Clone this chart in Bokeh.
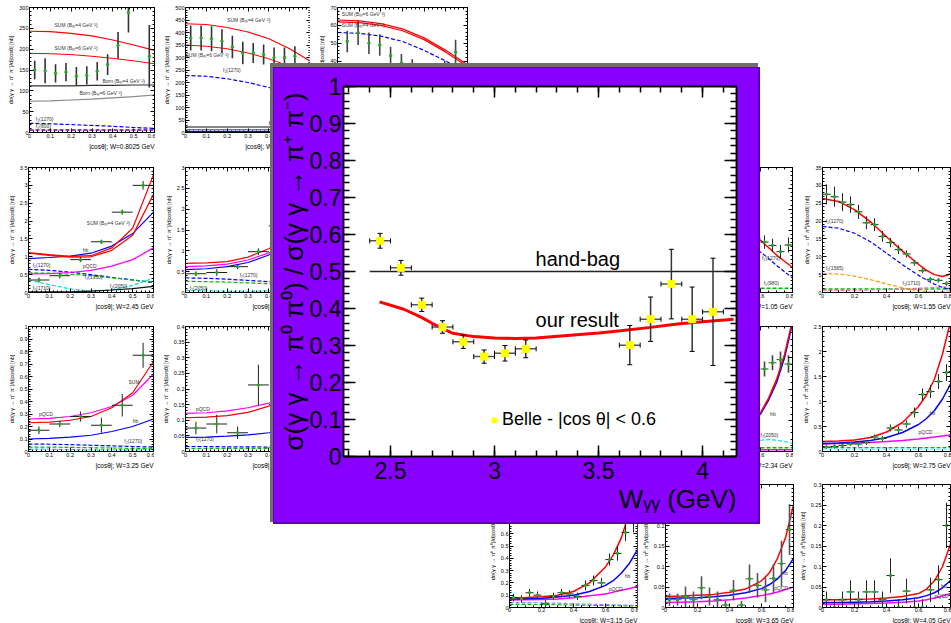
from bokeh.plotting import figure
from bokeh.models import (ColumnDataSource, FixedTicker, LinearAxis, Range1d, Legend,
                          LegendItem, Whisker, TeeHead, Div, Column, CustomJSTickFormatter, Title)
from bokeh.core.properties import value
from bokeh.embed import file_html
from bokeh.resources import INLINE

# ================= main chart data =================
belle_w = [2.45, 2.55, 2.65, 2.75, 2.85, 2.95, 3.05, 3.15, 3.65, 3.75, 3.85, 3.95, 4.05]
belle_ratio = [0.583, 0.510, 0.410, 0.350, 0.310, 0.270, 0.279, 0.291, 0.301, 0.371, 0.466, 0.371, 0.391]
belle_ratio_err = [0.020, 0.020, 0.018, 0.017, 0.018, 0.018, 0.021, 0.024, 0.053, 0.060, 0.094, 0.087, 0.145]
belle_w_err = [0.05, 0.05, 0.05, 0.05, 0.05, 0.05, 0.05, 0.05, 0.05, 0.05, 0.05, 0.05, 0.05]

result_w = [2.447, 2.564, 2.649, 2.70, 2.756, 2.80, 2.90, 3.0, 3.1, 3.2, 3.35, 3.5, 3.606, 3.75, 3.878, 4.0, 4.149]
result_ratio = [0.418, 0.398, 0.376, 0.360, 0.344, 0.333, 0.324, 0.320, 0.319, 0.320, 0.327, 0.334, 0.340, 0.349, 0.358, 0.364, 0.371]

handbag_w = [2.40, 4.16]
handbag_ratio = [0.50, 0.50]

main_y_ticks = [0, 0.1, 0.2, 0.3, 0.4, 0.5, 0.6, 0.7, 0.8, 0.9, 1]
main_x_ticks = [2.5, 3, 3.5, 4]

# ================= background panels data =================
cos_grid6 = [0.0, 0.1, 0.2, 0.3, 0.4, 0.5, 0.6]
cos_grid8 = [0.0, 0.1, 0.2, 0.3, 0.4, 0.5, 0.6, 0.65, 0.7, 0.75, 0.8]
cos_bins10 = [0.05, 0.15, 0.25, 0.35, 0.45, 0.55]
cos_bins05 = [0.025, 0.075, 0.125, 0.175, 0.225, 0.275, 0.325, 0.375, 0.425, 0.475,
              0.525, 0.575, 0.625, 0.675, 0.725, 0.775]
ticks_cos6 = [0, 0.1, 0.2, 0.3, 0.4, 0.5, 0.6]
ticks_cos8 = [0, 0.2, 0.4, 0.6, 0.8]

# A: W = 0.8025 GeV
a_cos = [0.025, 0.075, 0.125, 0.175, 0.225, 0.275, 0.325, 0.375, 0.425, 0.475, 0.575]
a_val = [150, 148, 142, 145, 135, 137, 147, 163, 209, 288, 183]
a_err = [22, 30, 22, 22, 22, 22, 22, 25, 32, 48, 75]
a_sum4 = [243, 242, 238, 232, 222, 210, 197]
a_sum6 = [190, 189, 187, 183, 178, 172, 165]
a_born4 = [112, 112, 112, 113, 113, 114, 114]
a_born6 = [75, 76, 78, 80, 83, 86, 90]
a_f2 = [22, 21, 19, 17, 15, 12, 10]
a_f0 = [6, 6, 6, 6, 6, 6, 6]
a_yticks = [0, 50, 100, 150, 200, 250, 300]

# B
b_cos = [0.025, 0.075, 0.125, 0.175, 0.225, 0.275, 0.325, 0.375, 0.425, 0.475, 0.525]
b_val = [378, 378, 375, 365, 342, 318, 318, 312, 300, 300, 305]
b_err = [50, 50, 50, 48, 45, 45, 40, 40, 40, 40, 40]
b_sum4 = [435, 432, 420, 402, 375, 335, 285]
b_sum6 = [350, 345, 335, 318, 295, 265, 230]
b_f2 = [228, 225, 215, 200, 180, 158, 135]
b_born4 = [22, 22, 22, 22, 22, 22, 22]
b_born6 = [12, 12, 12, 12, 12, 12, 12]
b_f0 = [3, 3, 3, 3, 3, 3, 3]
b_yticks = [0, 50, 100, 150, 200, 250, 300, 350, 400, 450, 500]

# C
c_cos = [0.045, 0.095, 0.145, 0.195, 0.245, 0.295, 0.345, 0.395, 0.445, 0.495, 0.545]
c_val = [51, 56, 50, 49, 43, 39, 36, 33, 31, 35, 45]
c_err = [6, 7, 6, 6, 5, 5, 5, 5, 5, 5, 7]
c_sum6 = [63, 62.5, 61, 58, 53, 46, 38]
c_sum4 = [62, 61.5, 60, 57, 52, 45, 37]
c_f2 = [56, 55.5, 54, 51, 46, 40, 33]
c_yticks = [0, 10, 20, 30, 40, 50, 60, 70]

# D: W = 2.45 GeV
d_val = [0.35, 0.47, 0.92, 1.42, 2.25, 3.0]
d_err = [0.07, 0.08, 0.07, 0.06, 0.07, 0.12]
d_sum4 = [1.12, 1.06, 1.01, 1.03, 1.25, 1.8, 3.3]
d_sum6 = [1.10, 1.04, 0.99, 1.0, 1.18, 1.6, 2.75]
d_hb = [0.95, 0.98, 1.02, 1.1, 1.3, 1.65, 2.25]
d_pqcd = [0.52, 0.53, 0.56, 0.62, 0.74, 0.92, 1.25]
d_f2_1270 = [0.65, 0.62, 0.57, 0.5, 0.42, 0.35, 0.28]
d_f2_1950 = [0.55, 0.54, 0.51, 0.47, 0.41, 0.35, 0.29]
d_f2_2050 = [0.35, 0.22, 0.1, 0.04, 0.07, 0.2, 0.4]
d_f2_1710 = [0.02, 0.02, 0.02, 0.04, 0.07, 0.11, 0.17]
d_yticks = [0, 0.5, 1, 1.5, 2, 2.5, 3, 3.5]

# E
e_val = [0.45, 0.48, 0.62, 0.98, 1.6, 2.5]
e_err = [0.06, 0.08, 0.06, 0.08, 0.1, 0.15]
e_sum = [0.70, 0.71, 0.74, 0.85, 1.05, 1.4, 2.0]
e_pqcd = [0.62, 0.64, 0.68, 0.78, 0.95, 1.25, 1.7]
e_hb = [0.55, 0.57, 0.62, 0.72, 0.9, 1.2, 1.65]
e_f2_1270 = [0.35, 0.34, 0.32, 0.29, 0.26, 0.23, 0.2]
e_f2_1950 = [0.27, 0.26, 0.25, 0.23, 0.21, 0.19, 0.17]
e_f2_2050 = [0.05, 0.04, 0.03, 0.03, 0.04, 0.06, 0.1]
e_yticks = [0, 0.5, 1, 1.5, 2, 2.5, 3]

# F: W = 3.25 GeV
f_val = [0.17, 0.22, 0.28, 0.21, 0.37, 0.77]
f_err = [0.03, 0.025, 0.04, 0.06, 0.09, 0.1]
f_sum = [0.23, 0.235, 0.25, 0.28, 0.35, 0.47, 0.72]
f_pqcd = [0.26, 0.265, 0.28, 0.31, 0.36, 0.45, 0.62]
f_hb = [0.1, 0.105, 0.115, 0.13, 0.16, 0.2, 0.26]
f_f2_1270 = [0.06, 0.058, 0.055, 0.05, 0.045, 0.04, 0.035]
f_f2_1950 = [0.035, 0.035, 0.033, 0.03, 0.028, 0.025, 0.022]
f_f2_2050 = [0.02, 0.018, 0.015, 0.013, 0.012, 0.013, 0.015]
f_yticks = [0, 0.1, 0.2, 0.3, 0.4, 0.5, 0.6, 0.7, 0.8, 0.9, 1]

# G
g_val = [0.075, 0.088, 0.06, 0.213, 0.15, 0.3]
g_err = [0.02, 0.03, 0.02, 0.065, 0.05, 0.07]
g_sum = [0.108, 0.11, 0.115, 0.125, 0.145, 0.175, 0.22]
g_pqcd = [0.122, 0.124, 0.13, 0.14, 0.155, 0.18, 0.22]
g_hb = [0.045, 0.046, 0.049, 0.053, 0.06, 0.07, 0.085]
g_f2_1270 = [0.016, 0.016, 0.015, 0.015, 0.014, 0.013, 0.012]
g_f2_1950 = [0.01, 0.01, 0.01, 0.01, 0.01, 0.01, 0.01]
g_yticks = [0, 0.05, 0.1, 0.15, 0.2, 0.25, 0.3, 0.35, 0.4]

# H: W = 1.05 GeV (pi0 pi0)
h_val = [22, 22, 21, 20.5, 19.5, 18.5, 17.5, 16.5, 15.5, 14.5, 13.5, 13, 12.1, 11.3, 9.8, 11.4]
h_err = [1.5, 1.5, 1.5, 1.5, 1.5, 1.5, 1.5, 1.5, 1.5, 1.5, 1.5, 1.5, 1.6, 1.6, 1.6, 1.8]
h_sum = [26, 25.5, 24, 22, 19.5, 16.5, 12.5, 10.8, 9.0, 7.5, 6.0]
h_f2_1270 = [19, 18.7, 17.8, 16.3, 14.3, 12, 9.7, 8.2, 6.5, 5.0, 3.5]
h_f0_980 = [1.0, 1.0, 1.0, 1.0, 1.0, 1.0, 1.0, 1.0, 1.0, 1.0, 1.0]
h_yticks = [0, 5, 10, 15, 20, 25, 30]

# I: W = 1.55 GeV (pi0 pi0)
i_val = [27.5, 26.8, 25.3, 24.6, 22.6, 19.5, 19.0, 15.7, 14.0, 12.0, 10.8, 8.3, 6.1, 3.7, 3.4, 2.5]
i_err = [2.8, 2.8, 2.5, 2.3, 2.0, 1.8, 1.8, 1.5, 1.3, 1.2, 1.0, 0.8, 0.7, 0.6, 0.6, 0.6]
i_sum = [26.3, 25.5, 23.2, 19.8, 15.6, 11.6, 7.9, 6.2, 5.0, 4.5, 5.2]
i_f2_1270 = [18.5, 18.0, 16.6, 14.2, 11.0, 7.8, 4.8, 3.5, 2.3, 1.4, 0.8]
i_f2_1565 = [5.3, 5.2, 4.6, 3.6, 2.4, 1.3, 0.5, 0.25, 0.1, 0.2, 0.5]
i_f2_1710 = [0.6, 0.6, 0.6, 0.7, 0.8, 1.0, 1.2, 1.3, 1.4, 1.5, 1.6]
i_bkg = [1.0, 1.0, 1.0, 1.0, 1.0, 1.0, 1.0, 1.0, 1.0, 1.0, 1.0]
i_yticks = [0, 5, 10, 15, 20, 25, 30, 35]

# J: W = 2.34 GeV (pi0 pi0)
j_val = [0.1, 0.12, 0.12, 0.14, 0.18, 0.2, 0.25, 0.3, 0.38, 0.45, 0.55, 0.75, 1.32, 1.42, 1.47, 1.40]
j_err = [0.03, 0.03, 0.03, 0.03, 0.04, 0.04, 0.04, 0.05, 0.05, 0.06, 0.07, 0.08, 0.12, 0.12, 0.13, 0.14]
j_sum = [0.12, 0.13, 0.15, 0.18, 0.24, 0.36, 0.62, 0.85, 1.15, 1.55, 2.1]
j_hb = [0.1, 0.11, 0.13, 0.16, 0.22, 0.34, 0.6, 0.82, 1.1, 1.5, 2.05]
j_f2_2050 = [0.05, 0.06, 0.08, 0.1, 0.13, 0.16, 0.18, 0.19, 0.18, 0.16, 0.13]
j_f2_1950 = [0.06, 0.06, 0.06, 0.06, 0.06, 0.06, 0.06, 0.06, 0.06, 0.06, 0.06]
j_pqcd = [0.03, 0.03, 0.03, 0.03, 0.03, 0.03, 0.03, 0.03, 0.03, 0.03, 0.03]
j_yticks = [0, 0.5, 1, 1.5, 2]

# K: W = 2.75 GeV (pi0 pi0)
k_val = [0.09, 0.1, 0.12, 0.15, 0.15, 0.18, 0.29, 0.26, 0.47, 0.43, 0.55, 0.78, 1.14, 1.2, 1.4, 1.58]
k_err = [0.04, 0.04, 0.04, 0.04, 0.05, 0.05, 0.05, 0.05, 0.07, 0.07, 0.07, 0.1, 0.12, 0.13, 0.15, 0.17]
k_sum = [0.2, 0.21, 0.23, 0.28, 0.39, 0.58, 0.9, 1.13, 1.45, 1.95, 2.6]
k_hb = [0.16, 0.17, 0.19, 0.22, 0.28, 0.38, 0.54, 0.66, 0.82, 1.05, 1.35]
k_pqcd = [0.15, 0.16, 0.17, 0.18, 0.2, 0.22, 0.25, 0.27, 0.29, 0.31, 0.33]
k_f2_1950 = [0.08, 0.08, 0.08, 0.08, 0.08, 0.08, 0.08, 0.08, 0.08, 0.08, 0.08]
k_f2_2050 = [0.05, 0.05, 0.05, 0.05, 0.05, 0.05, 0.05, 0.05, 0.05, 0.05, 0.05]
k_yticks = [0, 0.5, 1, 1.5, 2, 2.5]

# L: W = 3.15 GeV (pi0 pi0)
l_val = [0.08, 0.07, 0.12, 0.1, 0.03, 0.09, 0.12, 0.11, 0.09, 0.18, 0.22, 0.2, 0.39, 0.44, 0.61, 0.7]
l_err = [0.03, 0.03, 0.03, 0.03, 0.03, 0.03, 0.03, 0.03, 0.03, 0.04, 0.04, 0.04, 0.05, 0.06, 0.07, 0.09]
l_sum = [0.08, 0.082, 0.088, 0.1, 0.13, 0.2, 0.33, 0.43, 0.57, 0.78, 1.05]
l_hb = [0.07, 0.072, 0.076, 0.085, 0.1, 0.13, 0.18, 0.22, 0.28, 0.36, 0.47]
l_pqcd = [0.06, 0.062, 0.065, 0.07, 0.08, 0.095, 0.11, 0.125, 0.14, 0.155, 0.17]
l_f2_1270 = [0.04, 0.04, 0.038, 0.035, 0.03, 0.027, 0.024, 0.022, 0.02, 0.018, 0.016]
l_f2_1950 = [0.025, 0.025, 0.024, 0.022, 0.02, 0.018, 0.016, 0.015, 0.014, 0.013, 0.012]
l_yticks = [0, 0.1, 0.2, 0.3, 0.4, 0.5, 0.6, 0.7, 0.8, 0.9, 1]

# M: W = 3.65 GeV (pi0 pi0)
m_val = [0.019, 0.019, 0.026, 0.019, 0.048, 0.027, 0.019, 0.006, 0.042, 0.006, 0.07, 0.054, 0.043, 0.071, 0.107, 0.19]
m_err = [0.015, 0.015, 0.025, 0.02, 0.028, 0.022, 0.02, 0.01, 0.025, 0.01, 0.035, 0.03, 0.03, 0.035, 0.056, 0.062]
m_sum = [0.027, 0.028, 0.03, 0.032, 0.037, 0.045, 0.065, 0.085, 0.12, 0.17, 0.25]
m_hb = [0.022, 0.023, 0.024, 0.026, 0.03, 0.036, 0.046, 0.056, 0.07, 0.09, 0.12]
m_pqcd = [0.012, 0.013, 0.014, 0.016, 0.019, 0.023, 0.029, 0.033, 0.038, 0.044, 0.05]
m_yticks = [0, 0.05, 0.1, 0.15, 0.2, 0.25, 0.3]

# N: W = 4.05 GeV (pi0 pi0)
n_val = [0.019, 0.0, 0.019, 0.038, 0.019, 0.038, 0.038, 0.019, 0.078, 0.0, 0.04, 0.0, 0.0, 0.043, 0.068, 0.2]
n_err = [0.02, 0.02, 0.02, 0.028, 0.02, 0.028, 0.028, 0.02, 0.042, 0.02, 0.03, 0.02, 0.02, 0.03, 0.035, 0.055]
n_sum = [0.019, 0.019, 0.02, 0.021, 0.023, 0.027, 0.034, 0.045, 0.065, 0.1, 0.155]
n_hb = [0.012, 0.012, 0.013, 0.014, 0.016, 0.019, 0.024, 0.029, 0.036, 0.048, 0.066]
n_pqcd = [0.008, 0.008, 0.009, 0.01, 0.011, 0.013, 0.016, 0.019, 0.023, 0.028, 0.034]
n_yticks = [0, 0.05, 0.1, 0.15, 0.2, 0.25, 0.3]

# ================= styling helpers =================
FONT = "Liberation Sans"
PURPLE = "#8800ff"
FMT = "return String(Number(tick.toFixed(5)));"
PM = "dσ(γ γ → π⁺ π⁻)/d|cosθ| [nb]"
P0 = "dσ(γ γ → π⁰ π⁰)/d|cosθ| [nb]"
RED, BLUE, MAG, GRN, CYN = "#ff0000", "#0000ff", "#ff00ff", "#00bb00", "#00dddd"


def subdiv(ticks, n, lo, hi):
    step = (ticks[1] - ticks[0]) / n
    start = ticks[0] - step * int((ticks[0] - lo) / step + 1e-9)
    out, i = [], 0
    while start + i * step <= hi + 1e-9:
        out.append(round(start + i * step, 6))
        i += 1
    return out


def no_align(fig):
    try:
        fig.frame_align = False
    except Exception:
        pass


def style_axis(ax, ticks, minor, tick_font, label_font, major_in, minor_in,
               standoff, label_standoff, width):
    ax.ticker = FixedTicker(ticks=ticks, minor_ticks=minor)
    ax.formatter = CustomJSTickFormatter(code=FMT)
    ax.major_tick_in = major_in
    ax.major_tick_out = 0
    ax.minor_tick_in = minor_in
    ax.minor_tick_out = 0
    ax.major_tick_line_color = "black"
    ax.minor_tick_line_color = "black"
    ax.major_tick_line_width = width
    ax.minor_tick_line_width = width
    ax.axis_line_color = "black"
    ax.axis_line_width = width
    ax.major_label_text_font = FONT
    ax.major_label_text_font_size = tick_font
    ax.major_label_text_color = "black"
    ax.major_label_standoff = standoff
    ax.axis_label_text_font = FONT
    ax.axis_label_text_font_size = label_font
    ax.axis_label_text_font_style = "normal"
    ax.axis_label_text_color = "black"
    ax.axis_label_standoff = label_standoff


def mirror(fig, ticks, minor, side, major_in, minor_in, width):
    ax = LinearAxis(ticker=FixedTicker(ticks=ticks, minor_ticks=minor),
                    formatter=CustomJSTickFormatter(code="return '';"),
                    major_label_text_font_size="0px", major_label_standoff=0,
                    major_tick_in=major_in, major_tick_out=0,
                    minor_tick_in=minor_in, minor_tick_out=0,
                    axis_line_color="black", axis_line_width=width,
                    major_tick_line_width=width, minor_tick_line_width=width)
    fig.add_layout(ax, side)


def x_title(fig, text, size, standoff):
    fig.add_layout(Title(text=text, align="right", text_font=FONT, text_font_size=size,
                         text_font_style="normal", text_color="black", standoff=standoff,
                         offset=0), "below")


def place(model, left, top, extra=None):
    st = {"position": "absolute", "left": f"{left}px", "top": f"{top}px"}
    if extra:
        st.update(extra)
    model.styles = st


def make_panel(frame_left, frame_top, fw, xmax, ymax, xt, yt, xlabel, ylabel, fh=125, tight=False):
    f = figure(width=28 + fw + 1, height=7 + fh + 22, x_range=Range1d(0, xmax),
               y_range=Range1d(0, ymax), output_backend="svg", toolbar_location=None,
               min_border_left=28, min_border_right=1, min_border_top=7, min_border_bottom=22,
               background_fill_color="white", border_fill_color="white",
               outline_line_color="black", outline_line_width=1)
    no_align(f)
    f.grid.visible = False
    xm = subdiv(xt, 5 if xmax < 0.7 else 4, 0, xmax)
    ym = subdiv(yt, 5, 0, ymax)
    style_axis(f.xaxis[0], xt, xm, "5.5px", "6.5px", 4, 2, 0 if tight else 1, 1, 1)
    style_axis(f.yaxis[0], yt, ym, "5.5px", "5.5px", 4, 2, 1, 2, 1)
    f.yaxis[0].axis_label = ylabel
    x_title(f, xlabel, "6.5px", 0 if tight else 1)
    mirror(f, xt, xm, "above", 4, 2, 1)
    mirror(f, yt, ym, "right", 4, 2, 1)
    place(f, frame_left - 28, frame_top - 7)
    return f


def curve(f, xs, ys, color, dash="solid", width=1.2):
    f.line(xs, ys, line_color=color, line_dash=dash, line_width=width)


def points(f, xs, ys, errs, xerr, bar_color="#222222", bar_width=1.0):
    src = ColumnDataSource(dict(
        x=xs, y=ys,
        lo=[y - e for y, e in zip(ys, errs)], hi=[y + e for y, e in zip(ys, errs)],
        xl=[x - xerr for x in xs], xh=[x + xerr for x in xs]))
    f.segment(x0="x", y0="lo", x1="x", y1="hi", source=src,
              line_color=bar_color, line_width=bar_width)
    if xerr > 0:
        f.segment(x0="xl", y0="y", x1="xh", y1="y", source=src,
                  line_color=bar_color, line_width=1)
    f.scatter("x", "y", source=src, size=2.5, color="#22aa22")


def note(f, x, y, txt, angle=0.0):
    f.text(x=[x], y=[y], text=[txt], text_font=value(FONT), text_font_size="5px",
           text_color="#333333", text_baseline="bottom", angle=angle)


children = []

# ---- A ----
fa = make_panel(29, 7, 125, 0.6, 300, ticks_cos6, a_yticks, "|cosθ|; W=0.8025 GeV", PM)
curve(fa, cos_grid6, a_sum4, RED)
curve(fa, cos_grid6, a_sum6, RED, width=1.0)
curve(fa, cos_grid6, a_born4, "#333333")
curve(fa, cos_grid6, a_born6, "#888888")
curve(fa, cos_grid6, a_f2, BLUE, "4 2")
curve(fa, cos_grid6, a_f0, "#9933cc", "4 2", 2)
points(fa, a_cos, a_val, a_err, 0, "#333333", 1.6)
note(fa, 0.12, 250, "SUM (Bᵧᵧ=4 GeV⁻²)")
note(fa, 0.12, 196, "SUM (Bᵧᵧ=6 GeV⁻²)")
note(fa, 0.35, 116, "Born (Bᵧᵧ=4 GeV⁻²)")
note(fa, 0.24, 88, "Born (Bᵧᵧ=6 GeV⁻²)")
note(fa, 0.03, 26, "f₂(1270)")
note(fa, 0.03, 9, "f₀(600)")
children.append(fa)

# ---- B ----
fb = make_panel(185, 7, 125, 0.6, 500, ticks_cos6, b_yticks, "|cosθ|; W=0.9025 GeV", PM)
curve(fb, cos_grid6, b_sum4, RED)
curve(fb, cos_grid6, b_sum6, RED, width=1.0)
curve(fb, cos_grid6, b_f2, BLUE, "4 2")
curve(fb, cos_grid6, b_born4, "#111111")
curve(fb, cos_grid6, b_born6, "#777777")
curve(fb, cos_grid6, b_f0, BLUE, width=2)
points(fb, b_cos, b_val, b_err, 0, "#333333", 1.6)
note(fb, 0.2, 438, "SUM (Bᵧᵧ=4 GeV⁻²)")
note(fb, 0.0, 300, "SUM (Bᵧᵧ=6 GeV⁻²)")
note(fb, 0.18, 238, "f₂(1270)")
note(fb, 0.40, 26, "Born (Bᵧᵧ=4 GeV⁻²)")
children.append(fb)

# ---- C ----
fc = make_panel(337, 7, 130, 0.6, 70, ticks_cos6, c_yticks, "|cosθ|; W=1.25 GeV", PM)
curve(fc, cos_grid6, c_sum6, RED)
curve(fc, cos_grid6, c_sum4, RED)
curve(fc, cos_grid6, c_f2, BLUE, "4 2")
points(fc, c_cos, c_val, c_err, 0, "#444444", 1.6)
note(fc, 0.02, 64.5, "SUM (Bᵧᵧ=6 GeV⁻²)")
note(fc, 0.02, 58.5, "SUM (Bᵧᵧ=4 GeV⁻²)")
children.append(fc)

# ---- D ----
fd = make_panel(28, 167, 125, 0.6, 3.5, ticks_cos6, d_yticks, "|cosθ|; W=2.45 GeV", PM)
curve(fd, cos_grid6, d_f2_1270, BLUE, "4 2")
curve(fd, cos_grid6, d_f2_1950, GRN, "4 2")
curve(fd, cos_grid6, d_f2_2050, CYN, "4 2")
curve(fd, cos_grid6, d_f2_1710, "#111111")
curve(fd, cos_grid6, d_pqcd, MAG)
curve(fd, cos_grid6, d_hb, BLUE)
curve(fd, cos_grid6, d_sum6, RED)
curve(fd, cos_grid6, d_sum4, RED)
points(fd, cos_bins10, d_val, d_err, 0.05)
note(fd, 0.28, 1.85, "SUM (Bᵧᵧ=4 GeV⁻²)")
note(fd, 0.26, 1.12, "hb")
note(fd, 0.26, 0.66, "pQCD")
note(fd, 0.02, 0.68, "f₂(1270)")
note(fd, 0.27, 0.36, "f₂(1950)")
note(fd, 0.39, 0.1, "f₂(2050)")
note(fd, 0.02, 0.03, "f₂(1710)")
children.append(fd)

# ---- E ----
fe = make_panel(185, 167, 125, 0.6, 3, ticks_cos6, e_yticks, "|cosθ|; W=2.55 GeV", PM)
curve(fe, cos_grid6, e_f2_1270, BLUE, "4 2")
curve(fe, cos_grid6, e_f2_1950, GRN, "4 2")
curve(fe, cos_grid6, e_f2_2050, CYN, "4 2")
curve(fe, cos_grid6, e_pqcd, MAG)
curve(fe, cos_grid6, e_hb, BLUE)
curve(fe, cos_grid6, e_sum, RED)
points(fe, cos_bins10, e_val, e_err, 0.05)
note(fe, 0.26, 0.36, "f₂(1270)")
note(fe, 0.02, 0.04, "f₂(2050)")
children.append(fe)

# ---- F ----
ff = make_panel(28, 326, 125, 0.6, 1, ticks_cos6, f_yticks, "|cosθ|; W=3.25 GeV", PM)
curve(ff, cos_grid6, f_f2_1270, BLUE, "4 2")
curve(ff, cos_grid6, f_f2_1950, GRN, "4 2")
curve(ff, cos_grid6, f_f2_2050, CYN, "4 2")
curve(ff, cos_grid6, f_hb, BLUE)
curve(ff, cos_grid6, f_pqcd, MAG)
curve(ff, cos_grid6, f_sum, RED)
points(ff, cos_bins10, f_val, f_err, 0.05)
note(ff, 0.48, 0.53, "SUM")
note(ff, 0.05, 0.28, "pQCD")
note(ff, 0.5, 0.22, "hb")
note(ff, 0.46, 0.06, "f₂(1270)")
children.append(ff)

# ---- G ----
fg = make_panel(185, 326, 125, 0.6, 0.4, ticks_cos6, g_yticks, "|cosθ|; W=3.35 GeV", PM)
curve(fg, cos_grid6, g_f2_1270, BLUE, "4 2")
curve(fg, cos_grid6, g_f2_1950, GRN, "4 2")
curve(fg, cos_grid6, g_hb, BLUE)
curve(fg, cos_grid6, g_pqcd, MAG)
curve(fg, cos_grid6, g_sum, RED)
points(fg, cos_bins10, g_val, g_err, 0.05)
note(fg, 0.05, 0.128, "pQCD")
note(fg, 0.05, 0.032, "f₂(1270)")
children.append(fg)

# ---- H ----
fh = make_panel(664, 167, 128, 0.8, 30, ticks_cos8, h_yticks, "|cosθ|; W=1.05 GeV", P0)
curve(fh, cos_grid8, h_f0_980, GRN, "4 2", 1.5)
curve(fh, cos_grid8, h_f2_1270, BLUE, "4 2")
curve(fh, cos_grid8, h_sum, RED, width=1.5)
points(fh, cos_bins05, h_val, h_err, 0.025)
note(fh, 0.61, 7.5, "f₂(1270)")
note(fh, 0.62, 1.6, "f₀(980)")
children.append(fh)

# ---- I ----
fi = make_panel(822, 167, 128, 0.8, 35, ticks_cos8, i_yticks, "|cosθ|; W=1.55 GeV", P0)
curve(fi, cos_grid8, i_bkg, GRN, "4 2", 1.5)
curve(fi, cos_grid8, i_f2_1710, "#ff66cc", "4 2")
curve(fi, cos_grid8, i_f2_1565, "#ff9900", "4 2")
curve(fi, cos_grid8, i_f2_1270, BLUE, "4 2")
curve(fi, cos_grid8, i_sum, RED, width=1.5)
points(fi, cos_bins05, i_val, i_err, 0.025)
note(fi, 0.02, 19.2, "f₂(1270)")
note(fi, 0.02, 6.0, "f₂(1565)")
note(fi, 0.5, 1.8, "f₂(1710)")
children.append(fi)

# ---- J ----
fj = make_panel(664, 326, 128, 0.8, 2, ticks_cos8, j_yticks, "|cosθ|; W=2.34 GeV", P0)
curve(fj, cos_grid8, j_pqcd, MAG, width=1.5)
curve(fj, cos_grid8, j_f2_1950, GRN, "4 2", 1.5)
curve(fj, cos_grid8, j_f2_2050, CYN, "4 2")
curve(fj, cos_grid8, j_hb, BLUE, width=1.5)
curve(fj, cos_grid8, j_sum, RED, width=1.5)
points(fj, cos_bins05, j_val, j_err, 0.025, "#444444", 1.6)
note(fj, 0.66, 0.55, "hb")
note(fj, 0.6, 0.22, "f₂(2050)")
children.append(fj)

# ---- K ----
fk = make_panel(822, 326, 128, 0.8, 2.5, ticks_cos8, k_yticks, "|cosθ|; W=2.75 GeV", P0)
curve(fk, cos_grid8, k_f2_2050, CYN, "4 2")
curve(fk, cos_grid8, k_f2_1950, GRN, "4 2")
curve(fk, cos_grid8, k_pqcd, MAG, width=1.5)
curve(fk, cos_grid8, k_hb, BLUE, width=1.5)
curve(fk, cos_grid8, k_sum, RED, width=1.5)
points(fk, cos_bins05, k_val, k_err, 0.025)
note(fk, 0.67, 0.72, "hb")
note(fk, 0.6, 0.34, "pQCD")
children.append(fk)

# ---- L ----
fl = make_panel(509, 484, 128, 0.8, 1, ticks_cos8, l_yticks, "|cosθ|; W=3.15 GeV", P0, fh=123, tight=True)
curve(fl, cos_grid8, l_f2_1950, GRN, "4 2")
curve(fl, cos_grid8, l_f2_1270, "#8888ff", "4 2")
curve(fl, cos_grid8, l_pqcd, MAG, width=1.5)
curve(fl, cos_grid8, l_hb, BLUE, width=1.5)
curve(fl, cos_grid8, l_sum, RED, width=1.5)
points(fl, cos_bins05, l_val, l_err, 0.025)
note(fl, 0.72, 0.23, "hb")
note(fl, 0.62, 0.13, "pQCD")
children.append(fl)

# ---- M ----
fm = make_panel(665, 484, 128, 0.8, 0.3, ticks_cos8, m_yticks, "|cosθ|; W=3.65 GeV", P0, fh=123, tight=True)
curve(fm, cos_grid8, m_pqcd, MAG, width=1.5)
curve(fm, cos_grid8, m_hb, BLUE, width=1.5)
curve(fm, cos_grid8, m_sum, RED, width=1.5)
points(fm, cos_bins05, m_val, m_err, 0.025, "#555555", 1.6)
note(fm, 0.73, 0.078, "hb")
note(fm, 0.68, 0.04, "pQCD")
children.append(fm)

# ---- N ----
fn = make_panel(822, 484, 128, 0.8, 0.3, ticks_cos8, n_yticks, "|cosθ|; W=4.05 GeV", P0, fh=123, tight=True)
curve(fn, cos_grid8, n_pqcd, MAG, width=1.5)
curve(fn, cos_grid8, n_hb, BLUE, width=1.5)
curve(fn, cos_grid8, n_sum, RED, width=1.5)
points(fn, cos_bins05, n_val, n_err, 0.025)
note(fn, 0.74, 0.045, "hb")
note(fn, 0.7, 0.02, "pQCD")
children.append(fn)

# ================= main (foreground) chart =================
shadow = Div(text="", width=488, height=459)
place(shadow, 270, 63, {"background-color": "#6e6e6e", "padding": "0", "margin": "0"})
edge = Div(text="", width=487, height=457)
place(edge, 273, 67, {"background-color": "#5a00b0", "padding": "0", "margin": "0"})
children.append(shadow)
children.append(edge)

XR = (2.274, 4.163)
p = figure(width=485, height=455, x_range=Range1d(*XR),
           y_range=Range1d(0, 1), output_backend="svg", toolbar_location=None,
           min_border_left=70, min_border_right=22, min_border_top=19, min_border_bottom=66,
           background_fill_color="white", border_fill_color=PURPLE,
           outline_line_color="black", outline_line_width=1.5)
no_align(p)
p.grid.visible = False

main_y_minor = subdiv(main_y_ticks, 5, 0, 1)
main_x_minor = subdiv(main_x_ticks, 5, XR[0], XR[1])
style_axis(p.yaxis[0], main_y_ticks, main_y_minor, "23px", "26px", 12, 6, 2, -2, 1.5)
style_axis(p.xaxis[0], main_x_ticks, main_x_minor, "23px", "26px", 11, 6, 5, 0, 1.5)
p.yaxis[0].axis_label = "σ(γ γ → π⁰ π⁰) / σ(γ γ → π⁺ π⁻)"
x_title(p, "Wᵧᵧ (GeV)", "26px", 0)
mirror(p, main_x_ticks, main_x_minor, "above", 11, 6, 1.5)
mirror(p, main_y_ticks, main_y_minor, "right", 12, 6, 1.5)

bsrc = ColumnDataSource(dict(
    w=belle_w, r=belle_ratio,
    rlo=[r - e for r, e in zip(belle_ratio, belle_ratio_err)],
    rhi=[r + e for r, e in zip(belle_ratio, belle_ratio_err)],
    wlo=[w - e for w, e in zip(belle_w, belle_w_err)],
    whi=[w + e for w, e in zip(belle_w, belle_w_err)]))

p.line(handbag_w, handbag_ratio, line_color="#222222", line_width=1.5)
p.line(result_w, result_ratio, line_color="#ff0000", line_width=3)

vw = Whisker(source=bsrc, base="w", lower="rlo", upper="rhi", dimension="height",
             line_color="#333333", line_width=1.5, level="glyph",
             upper_head=TeeHead(size=5, line_color="black", line_width=1),
             lower_head=TeeHead(size=5, line_color="black", line_width=1))
hw = Whisker(source=bsrc, base="r", lower="wlo", upper="whi", dimension="width",
             line_color="#555555", line_width=1.5, level="glyph",
             upper_head=TeeHead(size=5, line_color="black", line_width=1),
             lower_head=TeeHead(size=5, line_color="black", line_width=1))
p.add_layout(vw)
p.add_layout(hw)

pts = p.scatter("w", "r", source=bsrc, marker="square", size=7,
                fill_color="#ffff00", line_color="#ffff00", level="overlay")

p.text(x=[3.197], y=[0.503], text=["hand-bag"], text_font=value(FONT),
       text_font_size="20px", text_color="black", text_baseline="bottom")
p.text(x=[3.197], y=[0.339], text=["our result"], text_font=value(FONT),
       text_font_size="20px", text_color="black", text_baseline="bottom")

legend = Legend(items=[LegendItem(label="Belle - |cos θ| < 0.6", renderers=[pts])],
                location=(145, 26), padding=0, margin=0, spacing=0,
                border_line_alpha=0, background_fill_alpha=0,
                glyph_width=12, glyph_height=12, label_standoff=2,
                label_text_font=FONT, label_text_font_size="18px", label_text_color="black")
p.add_layout(legend)

place(p, 273, 67)
children.append(p)

root = Column(children=children, width=951, height=623,
              styles={"position": "relative", "background-color": "white"})

open("out.html", "w").write(file_html(root, INLINE))
